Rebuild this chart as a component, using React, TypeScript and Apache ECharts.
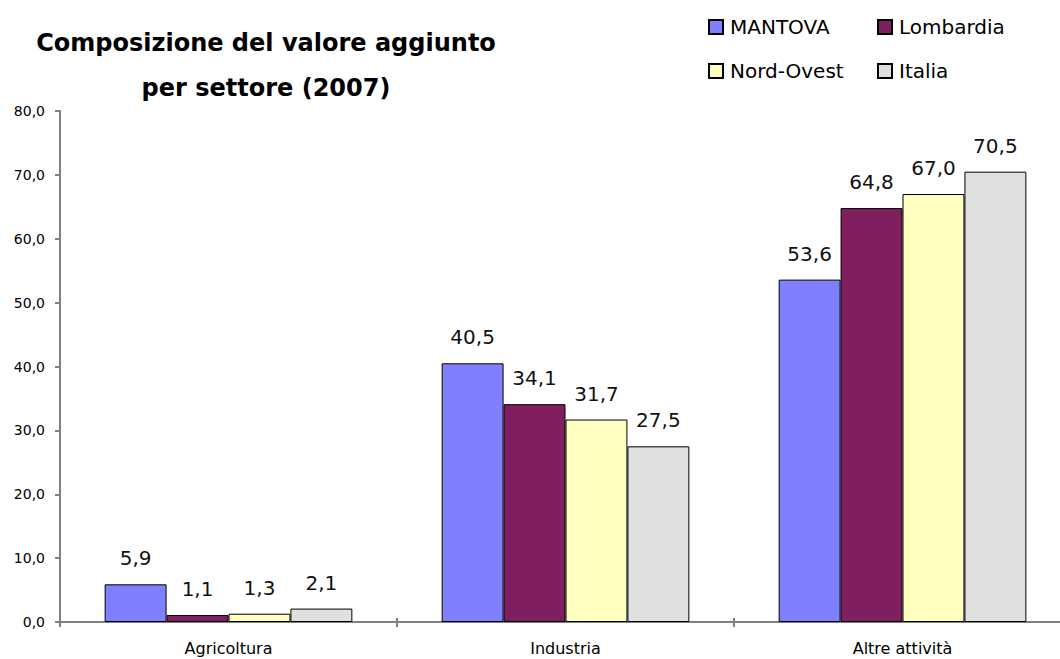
import React, { useEffect, useRef } from "react";
import * as echarts from "echarts";

const categories = ["Agricoltura", "Industria", "Altre attività"];
const seriesNames = ["MANTOVA", "Lombardia", "Nord-Ovest", "Italia"];
const mantova = [5.9, 40.5, 53.6];
const lombardia = [1.1, 34.1, 64.8];
const nordOvest = [1.3, 31.7, 67.0];
const italia = [2.1, 27.5, 70.5];
const seriesValues = [mantova, lombardia, nordOvest, italia];
const colors = ["#8080FF", "#7F1F5F", "#FFFFC0", "#E0E0E0"];
const titleText = "Composizione del valore aggiunto\nper settore (2007)";

const fmt = (v: number) => v.toFixed(1).replace(".", ",");

export default function App() {
  const ref = useRef<HTMLDivElement>(null);
  useEffect(() => {
    if (!ref.current) return;
    const chart = echarts.init(ref.current, null, { renderer: "svg" });
    const legendPos = [
      { left: 708, top: 17 },
      { left: 877, top: 17 },
      { left: 708, top: 61 },
      { left: 877, top: 61 },
    ];
    chart.setOption({
      animation: false,
      backgroundColor: "#ffffff",
      title: {
        text: titleText,
        left: 266,
        top: 20,
        padding: 0,
        textAlign: "center",
        textStyle: {
          fontFamily: "'Comic Sans MS', 'DejaVu Sans', sans-serif",
          fontSize: 24,
          fontWeight: "bold",
          lineHeight: 45,
          color: "#000",
        },
      },
      legend: seriesNames.map((n, i) => ({
        data: [n],
        left: legendPos[i].left,
        top: legendPos[i].top,
        padding: 0,
        icon: "rect",
        itemWidth: 14,
        itemHeight: 14,
        itemGap: 0,
        selectedMode: false,
        textStyle: {
          fontFamily: "'Comic Sans MS', 'DejaVu Sans', sans-serif",
          fontSize: 20,
          color: "#000",
          padding: [0, 0, 0, 2],
        },
      })),
      grid: { left: 60, right: 0, top: 111, bottom: 37, containLabel: false },
      xAxis: [
        {
          type: "category",
          data: categories,
          position: "bottom",
          axisLine: { lineStyle: { color: "#808080", width: 2 } },
          axisTick: { show: true, length: 5, lineStyle: { color: "#808080", width: 2 } },
          axisLabel: {
            margin: 18,
            fontFamily: "'DejaVu Sans', sans-serif",
            fontSize: 16,
            color: "#000",
          },
          splitLine: { show: false },
        },
        {
          type: "category",
          data: categories,
          position: "bottom",
          gridIndex: 0,
          axisLine: { show: false },
          axisTick: { show: true, inside: true, length: 4, lineStyle: { color: "#808080", width: 2 } },
          axisLabel: { show: false },
          splitLine: { show: false },
        },
      ],
      yAxis: {
        type: "value",
        min: 0,
        max: 80,
        interval: 10,
        axisLine: { show: true, lineStyle: { color: "#808080", width: 2 } },
        axisTick: { show: true, length: 5, lineStyle: { color: "#808080", width: 2 } },
        splitLine: { show: false },
        axisLabel: {
          margin: 15,
          formatter: (v: number) => fmt(v),
          fontFamily: "'DejaVu Sans', sans-serif",
          fontSize: 14,
          color: "#000",
        },
      },
      series: seriesNames.map((n, i) => ({
        name: n,
        type: "bar",
        xAxisIndex: 0,
        data: seriesValues[i],
        barGap: "0%",
        barCategoryGap: "26.5%",
        itemStyle: { color: colors[i], borderColor: "#000", borderWidth: 1 },
        label: {
          show: true,
          position: "top",
          distance: 16,
          formatter: (p: any) => fmt(p.value),
          fontFamily: "'DejaVu Sans', sans-serif",
          fontSize: 20,
          color: "#111",
        },
      })),
    });
    return () => chart.dispose();
  }, []);
  return (
    <div
      style={{
        position: "fixed",
        left: 0,
        top: 0,
        width: 1060,
        height: 659,
        overflow: "hidden",
        background: "#fff",
      }}
    >
      <div ref={ref} style={{ width: 1071, height: 659 }} />
    </div>
  );
}
